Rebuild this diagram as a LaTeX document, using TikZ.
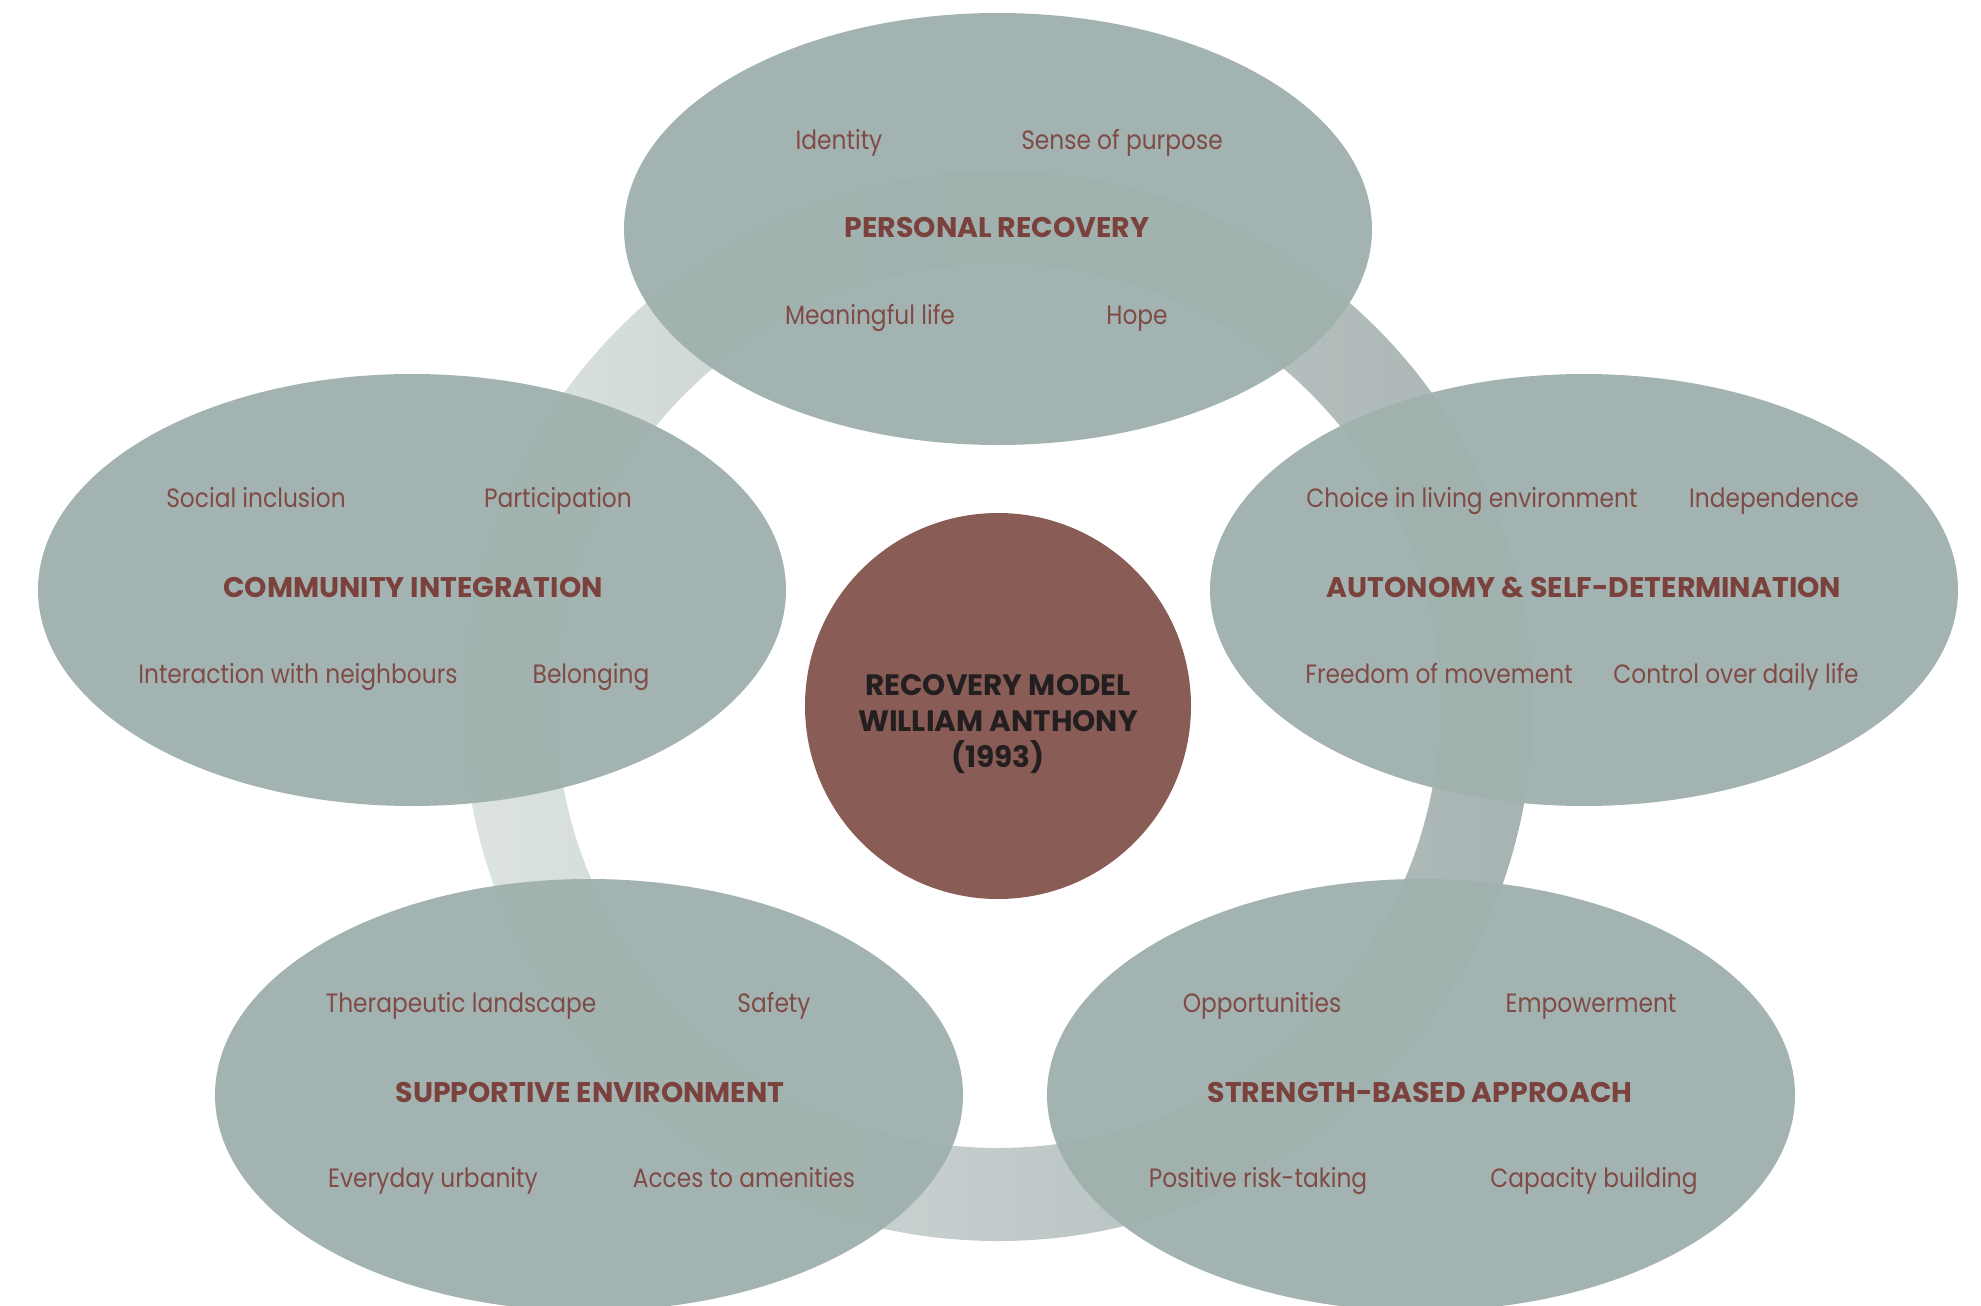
\documentclass[tikz,border=0pt]{standalone}
\usepackage{fontspec}
\setmainfont{Poppins}
\newfontfamily\itemfont[FakeStretch=0.88]{Poppins}
\usetikzlibrary{shapes.geometric}
\definecolor{ringL}{HTML}{DDE3E3}
\definecolor{ringR}{HTML}{A7B3B2}
\definecolor{ellbase}{RGB}{160,177,174}
\definecolor{itemcol}{HTML}{804B46}
\definecolor{titlecol}{HTML}{7B423D}
\definecolor{hubcol}{HTML}{8A5C56}
\definecolor{hubtext}{HTML}{231F20}
\tikzset{
  blob/.style={ellipse, fill=ellbase, fill opacity=0.97, draw=none, minimum width=748pt, minimum height=432pt, inner sep=0pt},
  item/.style={anchor=base, text=itemcol, font=\itemfont\fontsize{26.5}{30}\selectfont, inner sep=0pt},
  ttl/.style={anchor=base, text=titlecol, font=\fontsize{28.4}{32}\selectfont\bfseries, inner sep=0pt},
  hub/.style={circle, fill=hubcol, minimum size=386pt, inner sep=0pt},
  hubtxt/.style={text=hubtext, align=center, inner sep=0pt, font=\fontsize{29.5}{36}\selectfont\bfseries}
}
\begin{document}
\begin{tikzpicture}[x=1pt,y=-1pt]
\useasboundingbox (0,0) rectangle (1981,1306);
% ring
\shade[left color=ringL, right color=ringR, even odd rule]
  (998,706) circle[radius=535] (998,706) circle[radius=442];
% ellipses
\node[blob] (eTop) at (998,229) {};
\node[blob] (eLeft) at (412,590) {};
\node[blob] (eRight) at (1584,590) {};
\node[blob] (eBL) at (589,1095) {};
\node[blob] (eBR) at (1421,1095) {};
% hub
\node[hub] (hub) at (998,706) {};
\node[hubtxt] (hubtext) at (998,724) {RECOVERY MODEL\\ WILLIAM ANTHONY\\ (1993)};
% top
\node[item] (t1) at (839,149) {Identity};
\node[item] (t2) at (1122,149) {Sense of purpose};
\node[ttl]  (t0) at (997,237) {PERSONAL RECOVERY};
\node[item] (t3) at (870,324) {Meaningful life};
\node[item] (t4) at (1137,324) {Hope};
% left
\node[item] (l1) at (256,507) {Social inclusion};
\node[item] (l2) at (558,507) {Participation};
\node[ttl]  (l0) at (413,597) {COMMUNITY INTEGRATION};
\node[item] (l3) at (298,683) {Interaction with neighbours};
\node[item] (l4) at (591,683) {Belonging};
% right
\node[item] (r1) at (1472,507) {Choice in living environment};
\node[item] (r2) at (1774,507) {Independence};
\node[ttl]  (r0) at (1584,597) {AUTONOMY \& SELF-DETERMINATION};
\node[item] (r3) at (1439,683) {Freedom of movement};
\node[item] (r4) at (1736,683) {Control over daily life};
% bottom left
\node[item] (b1) at (461,1012) {Therapeutic landscape};
\node[item] (b2) at (774,1012) {Safety};
\node[ttl]  (b0) at (590,1102) {SUPPORTIVE ENVIRONMENT};
\node[item] (b3) at (433,1187) {Everyday urbanity};
\node[item] (b4) at (744,1187) {Acces to amenities};
% bottom right
\node[item] (s1) at (1262,1012) {Opportunities};
\node[item] (s2) at (1591,1012) {Empowerment};
\node[ttl]  (s0) at (1420,1102) {STRENGTH-BASED APPROACH};
\node[item] (s3) at (1258,1187) {Positive risk-taking};
\node[item] (s4) at (1594,1187) {Capacity building};
\end{tikzpicture}
\end{document}
